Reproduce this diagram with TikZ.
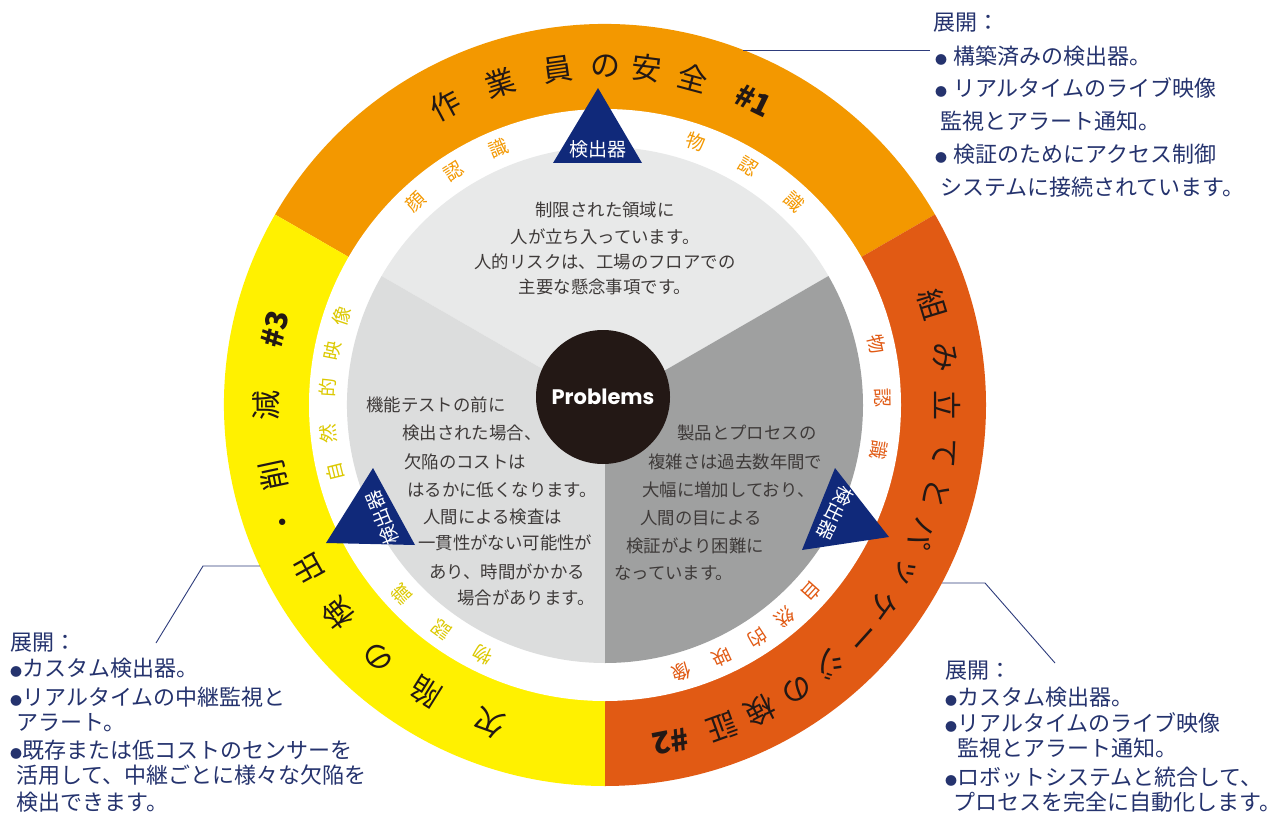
\documentclass[tikz,border=0pt]{standalone}
\usepackage{fontspec}
\setmainfont{Noto Sans CJK JP}
\newfontfamily\popfont{Poppins}
\definecolor{ringO}{HTML}{F39800}
\definecolor{ringY}{HTML}{FFF100}
\definecolor{ringR}{HTML}{E15A14}
\definecolor{secT}{HTML}{E8E9E9}
\definecolor{secL}{HTML}{DCDDDD}
\definecolor{secR}{HTML}{9FA0A0}
\definecolor{navy}{HTML}{10297A}
\definecolor{callc}{HTML}{25336E}
\definecolor{calll}{HTML}{2E3C7C}
\definecolor{bandY}{HTML}{DCC900}
\definecolor{secTxt}{HTML}{3E3A39}
\definecolor{probC}{HTML}{231815}
\newcommand{\bul}{{\fontsize{12}{12}\selectfont ●}}
\begin{document}
\begin{tikzpicture}[x=1pt,y=1pt,
  ringtxt/.style={font=\fontsize{30}{30}\selectfont, text=probC, inner sep=0},
  ringbold/.style={ringtxt, font=\fontsize{30}{30}\selectfont\bfseries},
  bandtxt/.style={font=\fontsize{19}{19}\selectfont, inner sep=0},
  sectxt/.style={font=\fontsize{17.4}{17.4}\selectfont, text=secTxt, inner sep=0, text height=15.3pt, text depth=2.1pt},
  calltxt/.style={font=\fontsize{22}{22}\selectfont, text=callc, inner sep=0, text height=19.4pt, text depth=2.6pt, anchor=west},
  callline/.style={draw=calll, line width=0.9pt},
  tritxt/.style={font=\fontsize{19}{19}\selectfont, text=white, inner sep=0}]

\useasboundingbox (0,0) rectangle (1280,-821);
\fill[white] (0,0) rectangle (1280,-821);
\coordinate (C) at (605,-405);

% outer ring
\fill[ringO] (C) -- ++(30:381) arc[start angle=30,end angle=150,radius=381] -- cycle;
\fill[ringY] (C) -- ++(150:381) arc[start angle=150,end angle=270,radius=381] -- cycle;
\fill[ringR] (C) -- ++(270:381) arc[start angle=270,end angle=390,radius=381] -- cycle;
\fill[white] (C) circle[radius=296];
% inner sectors
\fill[secT] (C) -- ++(30:258) arc[start angle=30,end angle=150,radius=258] -- cycle;
\fill[secL] (C) -- ++(150:258) arc[start angle=150,end angle=270,radius=258] -- cycle;
\fill[secR] (C) -- ++(270:258) arc[start angle=270,end angle=390,radius=258] -- cycle;

% centre
\node[circle, fill=probC, minimum size=134pt, inner sep=0, text=white,
      font=\fontsize{21}{21}\selectfont\popfont\bfseries] (prob) at (603,-397) {Problems};

% ring texts
\foreach \a/\t [count=\i] in {118/作,108/業,98/員,90/の,83/安,75/全}
  \path (C) ++(\a:339) node[ringtxt, rotate=\a-90] (rtA\i) {\t};
\path (C) ++(64:339) node[ringbold, rotate=-26] (rtA7) {\#1};

\foreach \a/\t [count=\i] in {250/欠,238/陥,228/の,218/検,209/出,200/・,192/削,180/減}
  \path (C) ++(\a:339) node[ringtxt, rotate=\a-90] (rtB\i) {\t};
\path (C) ++(167:339) node[ringbold, rotate=77] (rtB9) {\#3};

\foreach \a/\t [count=\i] in {17/組,8/み,0/立,-8/て,-15/と,-22/パ,-29/ッ,-36/ケ,-42/ー,-49/ジ,-56/の,-63/検,-70/証}
  \path (C) ++(\a:343) node[ringtxt, rotate=\a-90] (rtC\i) {\t};
\path (C) ++(-79:343) node[ringbold, rotate=-169] (rtC14) {\#2};

% band texts
\foreach \a/\t [count=\i] in {133/顔,123/認,112.5/識,71/物,59/認,47/識}
  \path (C) ++(\a:278) node[bandtxt, text=ringO, rotate=\a-90] (bA\i) {\t};
\foreach \a/\t [count=\i] in {194/自,186/然,176.5/的,168.7/映,161.4/像,244/物,234/認,223/識}
  \path (C) ++(\a:278) node[bandtxt, text=bandY, rotate=\a-90] (bB\i) {\t};
\foreach \a/\t [count=\i] in {12.6/物,1.5/認,-9.4/識,-42/自,-49.6/然,-56.8/的,-65.2/映,-74/像}
  \path (C) ++(\a:278) node[bandtxt, text=ringR, rotate=\a-90] (bC\i) {\t};

% detector triangles
\fill[navy] (598,-88) -- (553,-163) -- (642,-163) -- cycle;
\node[tritxt] (tri1) at (598,-149) {検出器};
\fill[navy] (373,-468) -- (326,-543) -- (415,-545) -- cycle;
\node[tritxt, rotate=112] (tri2) at (382,-518) {検出器};
\fill[navy] (835,-468) -- (889,-537) -- (802,-550) -- cycle;
\node[tritxt, rotate=-116] (tri3) at (835,-513) {検出器};

% sector texts
\node[sectxt] (s1) at (605,-210) {制限された領域に};
\node[sectxt] (s2) at (605,-237) {人が立ち入っています。};
\node[sectxt] (s3) at (605,-262) {人的リスクは、工場のフロアでの};
\node[sectxt] (s4) at (605,-287) {主要な懸念事項です。};

\node[sectxt, anchor=west] (l1) at (366,-405) {機能テストの前に};
\node[sectxt, anchor=west] (l2) at (402,-433) {検出された場合、};
\node[sectxt, anchor=west] (l3) at (404,-462) {欠陥のコストは};
\node[sectxt, anchor=west] (l4) at (407,-490) {はるかに低くなります。};
\node[sectxt, anchor=west] (l5) at (423,-517) {人間による検査は};
\node[sectxt, anchor=west] (l6) at (418,-543) {一貫性がない可能性が};
\node[sectxt, anchor=west] (l7) at (429,-572) {あり、時間がかかる};
\node[sectxt, anchor=west] (l8) at (457,-598) {場合があります。};

\node[sectxt, anchor=west] (r1) at (677,-433) {製品とプロセスの};
\node[sectxt, anchor=west] (r2) at (648,-462) {複雑さは過去数年間で};
\node[sectxt, anchor=west] (r3) at (642,-490) {大幅に増加しており、};
\node[sectxt, anchor=west] (r4) at (640,-518) {人間の目による};
\node[sectxt, anchor=west] (r5) at (626,-546) {検証がより困難に};
\node[sectxt, anchor=west] (r6) at (614,-573) {なっています。};

% callout top right
\node[calltxt] (a0) at (933,-22) {展開：};
\node[calltxt] (a1) at (935,-56) {\bul\hspace{6pt}構築済みの検出器。};
\node[calltxt] (a2) at (935,-88) {\bul\hspace{6pt}リアルタイムのライブ映像};
\node[calltxt] (a3) at (940,-121) {監視とアラート通知。};
\node[calltxt] (a4) at (935,-154) {\bul\hspace{6pt}検証のためにアクセス制御};
\node[calltxt] (a5) at (940,-187) {システムに接続されています。};
\coordinate (ka) at (743,-50);
\coordinate (kb) at (930,-50);
\draw[callline] (ka) -- (kb);

% callout bottom left
\node[calltxt] (b0) at (10,-642) {展開：};
\node[calltxt] (b1) at (10,-668) {\bul カスタム検出器。};
\node[calltxt] (b2) at (10,-697) {\bul リアルタイムの中継監視と};
\node[calltxt] (b3) at (16,-722) {アラート。};
\node[calltxt] (b4) at (10,-750) {\bul 既存または低コストのセンサーを};
\node[calltxt] (b5) at (16,-775) {活用して、中継ごとに様々な欠陥を};
\node[calltxt] (b6) at (16,-802) {検出できます。};
\coordinate (kc) at (260,-566);
\coordinate (kd) at (203,-566);
\coordinate (ke) at (156,-643);
\draw[callline] (kc) -- (kd) -- (ke);

% callout bottom right
\node[calltxt] (c0) at (945,-670) {展開：};
\node[calltxt] (c1) at (945,-697) {\bul カスタム検出器。};
\node[calltxt] (c2) at (945,-723) {\bul リアルタイムのライブ映像};
\node[calltxt] (c3) at (957,-748) {監視とアラート通知。};
\node[calltxt] (c4) at (945,-777) {\bul ロボットシステムと統合して、};
\node[calltxt] (c5) at (953,-802) {プロセスを完全に自動化します。};
\coordinate (kf) at (942,-583);
\coordinate (kg) at (985,-583);
\coordinate (kh) at (1055,-663);
\draw[callline] (kf) -- (kg) -- (kh);
\end{tikzpicture}
\end{document}
